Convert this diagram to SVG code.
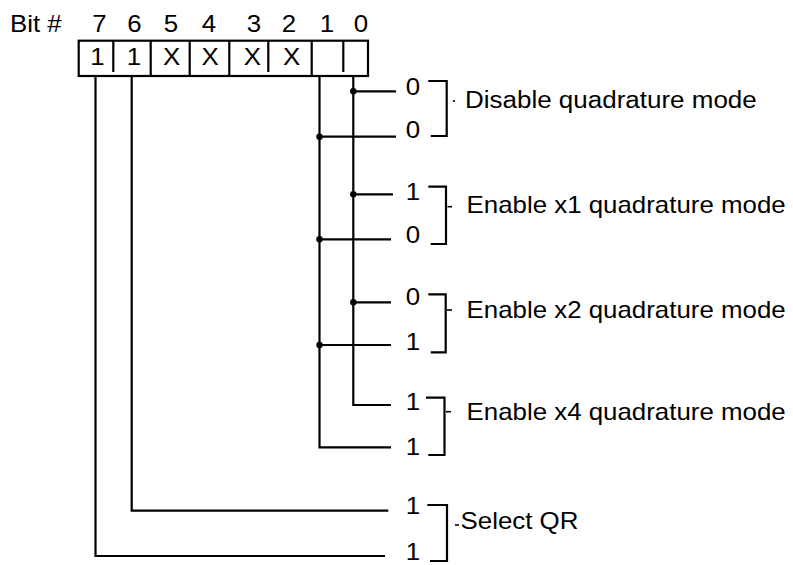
<svg xmlns="http://www.w3.org/2000/svg" width="793" height="565" viewBox="0 0 793 565">
<style>
.t{font-family:"Liberation Sans",Arial,Helvetica,sans-serif;font-size:23px;fill:#000}
.m{text-anchor:middle}
.ln{stroke:#000;stroke-width:2.2;fill:none;stroke-linecap:butt}
.tk{stroke:#000;stroke-width:1.6;fill:none}
.dot{fill:#000}
</style>
<rect width="793" height="565" fill="#fff"/>

<g id="bit-numbers">
  <text class="t" transform="translate(10,32.3) scale(1.125,1)">Bit #</text>
  <text class="t m" transform="translate(99.5,32.3) scale(1.125,1)">7</text>
  <text class="t m" transform="translate(134.5,32.3) scale(1.125,1)">6</text>
  <text class="t m" transform="translate(171,32.3) scale(1.125,1)">5</text>
  <text class="t m" transform="translate(209,32.3) scale(1.125,1)">4</text>
  <text class="t m" transform="translate(254,32.3) scale(1.125,1)">3</text>
  <text class="t m" transform="translate(289,32.3) scale(1.125,1)">2</text>
  <text class="t m" transform="translate(327,32.3) scale(1.125,1)">1</text>
  <text class="t m" transform="translate(361,32.3) scale(1.125,1)">0</text>
</g>

<g id="register">
  <rect x="78.7" y="40.7" width="289.3" height="35.3" class="ln" stroke-width="2.4"/>
  <line class="ln" x1="113.3" y1="40.7" x2="113.3" y2="72"/>
  <line class="ln" x1="150.7" y1="40.7" x2="150.7" y2="76"/>
  <line class="ln" x1="189.7" y1="40.7" x2="189.7" y2="76"/>
  <line class="ln" x1="229.3" y1="40.7" x2="229.3" y2="76"/>
  <line class="ln" x1="268.3" y1="40.7" x2="268.3" y2="72"/>
  <line class="ln" x1="311.7" y1="40.7" x2="311.7" y2="76"/>
  <line class="ln" x1="343.3" y1="40.7" x2="343.3" y2="72"/>
  <text class="t m" font-size="21.5" transform="translate(97.5,65) scale(1.125,1)">1</text>
  <text class="t m" font-size="21.5" transform="translate(134,65) scale(1.125,1)">1</text>
  <text class="t m" font-size="21.5" transform="translate(171.7,65) scale(1.125,1)">X</text>
  <text class="t m" font-size="21.5" transform="translate(210,65) scale(1.125,1)">X</text>
  <text class="t m" font-size="21.5" transform="translate(252.3,65) scale(1.125,1)">X</text>
  <text class="t m" font-size="21.5" transform="translate(291.7,65) scale(1.125,1)">X</text>
</g>

<g id="connectors">
  <path class="ln" d="M353.3,76 V405 H391"/>
  <line class="ln" x1="353.3" y1="91.3" x2="396" y2="91.3"/>
  <line class="ln" x1="353.3" y1="194.3" x2="393" y2="194.3"/>
  <line class="ln" x1="353.3" y1="302.3" x2="391" y2="302.3"/>
  <circle class="dot" cx="353.3" cy="91.3" r="3.2"/>
  <circle class="dot" cx="353.3" cy="194.3" r="3.2"/>
  <circle class="dot" cx="353.3" cy="302.3" r="3.2"/>
  <path class="ln" d="M319.5,76 V447.3 H391"/>
  <line class="ln" x1="319.5" y1="136.7" x2="396" y2="136.7"/>
  <line class="ln" x1="319.5" y1="239.3" x2="391" y2="239.3"/>
  <line class="ln" x1="319.5" y1="345" x2="391" y2="345"/>
  <circle class="dot" cx="319.5" cy="136.7" r="3.2"/>
  <circle class="dot" cx="319.5" cy="239.3" r="3.2"/>
  <circle class="dot" cx="319.5" cy="345" r="3.2"/>
  <path class="ln" d="M131.7,76 V510.7 H388.3"/>
  <path class="ln" d="M95.5,76 V556 H385"/>
</g>

<g id="mode-disable">
  <text class="t m" transform="translate(413,95) scale(1.125,1)">0</text>
  <text class="t m" transform="translate(413,138.3) scale(1.125,1)">0</text>
  <path class="ln" d="M428.3,81 H446.7 V136 H430.7"/>
  <line class="tk" x1="452.8" y1="101" x2="455" y2="101"/>
  <text class="t" transform="translate(465,108.3) scale(1.13,1)">Disable quadrature mode</text>
</g>

<g id="mode-x1">
  <text class="t m" transform="translate(413,200) scale(1.125,1)">1</text>
  <text class="t m" transform="translate(413,243.3) scale(1.125,1)">0</text>
  <path class="ln" d="M428.3,186.7 H446 V244 H430.7"/>
  <line class="tk" x1="447.5" y1="206.7" x2="452" y2="206.7"/>
  <text class="t" transform="translate(466.5,213.3) scale(1.125,1)">Enable x1 quadrature mode</text>
</g>

<g id="mode-x2">
  <text class="t m" transform="translate(413,305) scale(1.125,1)">0</text>
  <text class="t m" transform="translate(413,350) scale(1.125,1)">1</text>
  <path class="ln" d="M428.3,294.3 H445.7 V352.3 H430.7"/>
  <line class="tk" x1="447" y1="310" x2="452" y2="310"/>
  <text class="t" transform="translate(466.5,318.3) scale(1.125,1)">Enable x2 quadrature mode</text>
</g>

<g id="mode-x4">
  <text class="t m" transform="translate(413,410) scale(1.125,1)">1</text>
  <text class="t m" transform="translate(413,455) scale(1.125,1)">1</text>
  <path class="ln" d="M426,397.7 H444.5 V455 H428.3"/>
  <line class="tk" x1="446" y1="411.7" x2="451" y2="411.7"/>
  <text class="t" transform="translate(466.5,420) scale(1.125,1)">Enable x4 quadrature mode</text>
</g>

<g id="select-qr">
  <text class="t m" transform="translate(413,514) scale(1.125,1)">1</text>
  <text class="t m" transform="translate(413,560) scale(1.125,1)">1</text>
  <path class="ln" d="M427.3,505 H447 V561 H430"/>
  <line class="tk" x1="455" y1="525" x2="459" y2="525"/>
  <text class="t" transform="translate(460.5,529.3) scale(1.125,1)">Select QR</text>
</g>
</svg>
